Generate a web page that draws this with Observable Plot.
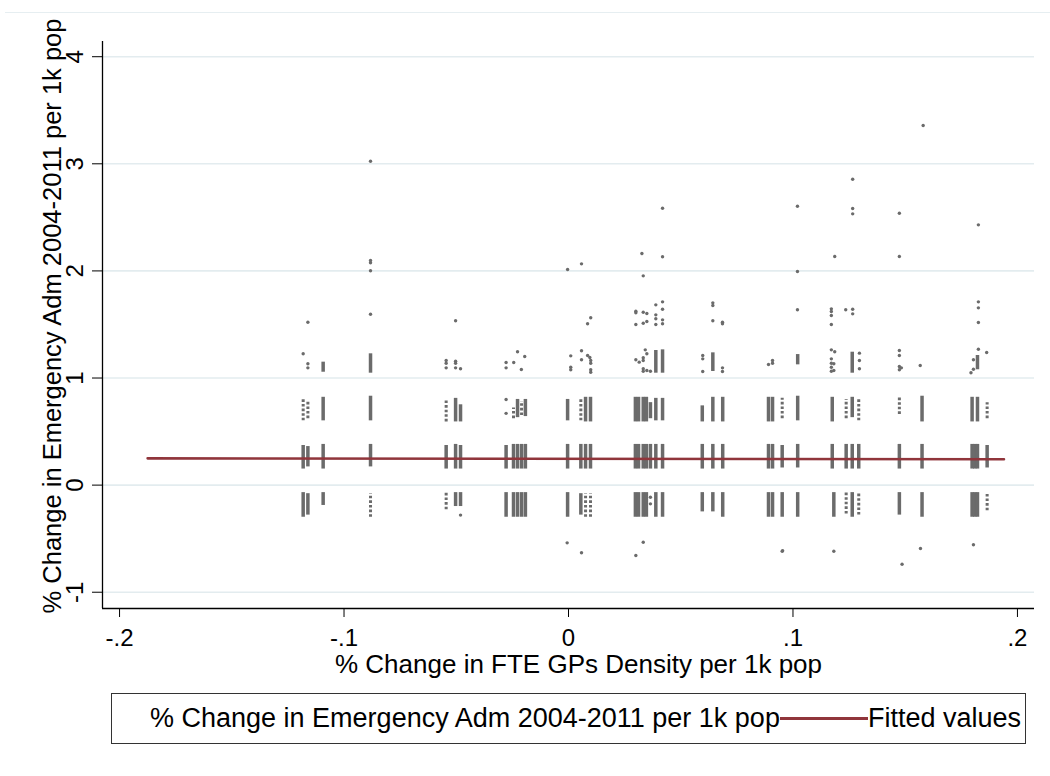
<!DOCTYPE html>
<html>
<head>
<meta charset="utf-8">
<script src="https://cdn.jsdelivr.net/npm/d3@7"></script>
<script src="https://cdn.jsdelivr.net/npm/@observablehq/plot@0.6"></script>
<style>
  html, body { margin: 0; padding: 0; background: #fff; }
  body { font-family: "Liberation Sans", Arial, sans-serif; color: #000; }
  #wrap { position: relative; width: 1050px; height: 776px; overflow: hidden; }
  #topline { position: absolute; left: 5px; right: 0; top: 12px; border-top: 1px solid #e6eef1; }
  #chart { position: absolute; left: 0; top: 0; }
  #legend { position: absolute; left: 111px; top: 693px; width: 915px; height: 51px;
            border: 1px solid #333; box-sizing: border-box; display: flex; align-items: center;
            padding-left: 38px; font-size: 27px; white-space: nowrap; overflow: hidden; }
  #legend .key { display: inline-block; width: 88px; height: 2.6px; background: #90353b; }
</style>
</head>
<body>
<div id="wrap">
  <div id="topline"></div>
  <div id="chart"></div>
  <div id="legend"></div>
</div>
<script>
// ---------- data ----------
const xDomain = [-0.2076, 0.2076];
const yDomain = [-1.152, 4.142];
const xTicks = [-0.2, -0.1, 0, 0.1, 0.2];
const xTickLabels = ["-.2", "-.1", "0", ".1", ".2"];
const yTicks = [-1, 0, 1, 2, 3, 4];
const yTickLabels = ["-1", "0", "1", "2", "3", "4"];
const xTitle = "% Change in FTE GPs Density per 1k pop";
const yTitle = "% Change in Emergency Adm 2004-2011 per 1k pop";
const legendLabels = ["% Change in Emergency Adm 2004-2011 per 1k pop", "Fitted values"];

// fitted line (x, y) end points
const fitX = [-0.1875, 0.194];
const fitY = [0.250, 0.241];

// densely packed columns of observations: [x, yLow, yHigh]
const denseStrips = [
  [-0.1182, 0.15, 0.37], [-0.1182, -0.30, -0.07],
  [-0.1161, 0.17, 0.36], [-0.1161, -0.28, -0.08],
  [-0.1093, 0.60, 0.82], [-0.1093, 0.15, 0.38], [-0.1093, -0.19, -0.07], [-0.1093, 1.054, 1.148],
  [-0.0882, 0.60, 0.83], [-0.0882, 0.17, 0.38], [-0.0882, 1.045, 1.226],
  [-0.0545, 0.15, 0.37],
  [-0.0503, 0.59, 0.81], [-0.0503, 0.15, 0.38], [-0.0503, -0.20, -0.07],
  [-0.0481, 0.59, 0.75], [-0.0481, 0.15, 0.37], [-0.0481, -0.20, -0.07],
  [-0.0278, 0.15, 0.37], [-0.0278, -0.30, -0.07],
  [-0.0245, 0.15, 0.38], [-0.0245, -0.30, -0.07],
  [-0.0227, 0.63, 0.80], [-0.0227, 0.15, 0.38], [-0.0227, -0.30, -0.07],
  [-0.0209, 0.15, 0.38], [-0.0209, -0.30, -0.07],
  [-0.0192, 0.64, 0.80], [-0.0192, 0.15, 0.38], [-0.0192, -0.30, -0.07],
  [-0.0004, 0.60, 0.80], [-0.0004, 0.15, 0.38], [-0.0004, -0.30, -0.07],
  [0.0055, 0.15, 0.38], [0.0055, -0.28, -0.08],
  [0.0076, 0.59, 0.82], [0.0076, 0.15, 0.38],
  [0.0098, 0.59, 0.82], [0.0098, 0.15, 0.38],
  [0.0298, 0.59, 0.82], [0.0298, 0.15, 0.38], [0.0298, -0.30, -0.07],
  [0.0312, 0.59, 0.82], [0.0312, 0.15, 0.38], [0.0312, -0.30, -0.07],
  [0.0333, 0.59, 0.82], [0.0333, 0.15, 0.38], [0.0333, -0.30, -0.07],
  [0.0347, 0.59, 0.82], [0.0347, 0.15, 0.38], [0.0347, -0.30, -0.07],
  [0.0365, 0.62, 0.77], [0.0365, 0.15, 0.38],
  [0.0389, 0.60, 0.81], [0.0389, 0.15, 0.38], [0.0389, -0.30, -0.07], [0.0389, 1.045, 1.257],
  [0.0419, 0.60, 0.81], [0.0419, 0.15, 0.38], [0.0419, -0.30, -0.07], [0.0419, 1.045, 1.263],
  [0.0596, 0.59, 0.74], [0.0596, 0.15, 0.38], [0.0596, -0.25, -0.07],
  [0.0643, 0.59, 0.82], [0.0643, 0.15, 0.38], [0.0643, -0.25, -0.07], [0.0643, 1.061, 1.235],
  [0.0687, 0.59, 0.82], [0.0687, 0.15, 0.38], [0.0687, -0.30, -0.07],
  [0.0891, 0.59, 0.82], [0.0891, 0.15, 0.38], [0.0891, -0.30, -0.07],
  [0.0909, 0.59, 0.82], [0.0909, 0.15, 0.38], [0.0909, -0.30, -0.07],
  [0.0952, 0.16, 0.37], [0.0952, -0.30, -0.07],
  [0.1021, 0.60, 0.83], [0.1021, 0.16, 0.38], [0.1021, -0.30, -0.07], [0.1021, 1.123, 1.219],
  [0.1175, 0.59, 0.82], [0.1175, 0.15, 0.38],
  [0.1182, -0.30, -0.07],
  [0.1237, 0.15, 0.38],
  [0.1264, 0.63, 0.82], [0.1264, 0.15, 0.38], [0.1264, -0.30, -0.07], [0.1264, 1.045, 1.241],
  [0.1293, 0.15, 0.38],
  [0.1474, 0.15, 0.38], [0.1474, -0.28, -0.07],
  [0.1575, 0.59, 0.83], [0.1575, 0.15, 0.38], [0.1575, -0.30, -0.07],
  [0.1798, 0.59, 0.82], [0.1798, 0.15, 0.38], [0.1798, -0.30, -0.07],
  [0.1810, 0.15, 0.38], [0.1810, -0.30, -0.07],
  [0.1822, 0.59, 0.82], [0.1822, 0.15, 0.38], [0.1822, -0.30, -0.07], [0.1822, 1.077, 1.210],
  [0.1865, 0.16, 0.37]
];

// loosely packed columns of observations: [x, yLow, yHigh]
const sparseStrips = [
  [-0.1182, 0.60, 0.81], [-0.1161, 0.62, 0.79],
  [-0.0882, -0.30, -0.08],
  [-0.0545, 0.59, 0.79], [-0.0545, -0.23, -0.07],
  [-0.0245, 0.62, 0.72], [-0.0209, 0.65, 0.78],
  [0.0055, 0.60, 0.80],
  [0.0076, -0.30, -0.08], [0.0098, -0.30, -0.08],
  [0.0952, 0.62, 0.81],
  [0.1237, 0.62, 0.80], [0.1237, -0.27, -0.07],
  [0.1293, 0.60, 0.80], [0.1293, -0.28, -0.07],
  [0.1474, 0.66, 0.82],
  [0.1865, 0.62, 0.77], [0.1865, -0.24, -0.07]
];

// isolated observations: [x, y]
const points = [
  [-0.1182, 1.226],
  [-0.1161, 1.521], [-0.1161, 1.133], [-0.1161, 1.095],
  [-0.0882, 3.024], [-0.0882, 2.097], [-0.0882, 2.076], [-0.0882, 2.001], [-0.0882, 1.596],
  [-0.0545, 1.163], [-0.0545, 1.138], [-0.0545, 1.095],
  [-0.0503, 1.534], [-0.0503, 1.157], [-0.0503, 1.138], [-0.0503, 1.095],
  [-0.0481, 1.086], [-0.0481, -0.28],
  [-0.0278, 0.80], [-0.0278, 0.67], [-0.0278, 1.145], [-0.0278, 1.095],
  [-0.0244, 1.145], [-0.0227, 1.245], [-0.0210, 1.079], [-0.0195, 1.201],
  [-0.0004, 2.013], [-0.0006, -0.539],
  [0.0010, 1.207], [0.0010, 1.101], [0.0010, 1.077],
  [0.0058, 2.066], [0.0058, 1.254], [0.0058, 1.170], [0.0058, -0.632],
  [0.0085, 1.506], [0.0085, 1.210], [0.0095, 1.191],
  [0.0099, 1.562], [0.0099, 1.163], [0.0099, 1.138], [0.0099, 1.077], [0.0099, 1.054],
  [0.0300, 1.624], [0.0300, 1.609], [0.0300, 1.500], [0.0300, 1.170], [0.0300, -0.657],
  [0.0315, 1.148],
  [0.0327, 2.162], [0.0333, 1.954], [0.0333, 1.614], [0.0333, 1.512], [0.0333, 1.189],
  [0.0333, 1.163], [0.0333, 1.086], [0.0333, 1.063], [0.0333, -0.533],
  [0.0342, 1.263], [0.0349, 1.226], [0.0349, 1.602], [0.0349, 1.528], [0.0349, 1.070],
  [0.0365, 1.063], [0.0365, -0.113], [0.0365, -0.175],
  [0.0389, 1.683], [0.0389, 1.590], [0.0389, 1.553], [0.0389, 1.500],
  [0.0419, 2.585], [0.0419, 2.132], [0.0419, 1.711], [0.0419, 1.642], [0.0419, 1.543], [0.0419, 1.506],
  [0.0598, 1.210], [0.0598, 1.179], [0.0598, 1.061],
  [0.0643, 1.702], [0.0643, 1.677], [0.0643, 1.534],
  [0.0686, 1.521], [0.0686, 1.506], [0.0686, 1.095], [0.0686, 1.061],
  [0.0891, 1.126], [0.0909, 1.163], [0.0909, 1.138],
  [0.0952, -0.617], [0.0954, -0.612],
  [0.1020, 2.604], [0.1020, 1.994], [0.1020, 1.637],
  [0.1171, 1.646], [0.1171, 1.621], [0.1171, 1.584], [0.1171, 1.500], [0.1171, 1.263],
  [0.1171, 1.179], [0.1171, 1.138], [0.1171, 1.101], [0.1171, 1.063],
  [0.1186, 2.134], [0.1186, 1.245], [0.1182, 1.133], [0.1182, 1.070], [0.1182, -0.617],
  [0.1235, 1.637],
  [0.1266, 2.856], [0.1266, 2.583], [0.1266, 2.533], [0.1266, 1.642], [0.1266, 1.599],
  [0.1296, 1.232], [0.1296, 1.163], [0.1296, 1.086],
  [0.1474, 2.539], [0.1474, 2.134], [0.1474, 1.257], [0.1474, 1.210], [0.1474, 1.107], [0.1474, 1.077],
  [0.1483, 1.095], [0.1486, -0.739],
  [0.1567, 1.117], [0.1568, -0.592],
  [0.1580, 3.358],
  [0.1793, 1.049], [0.1804, 1.170], [0.1804, 1.082], [0.1804, -0.557],
  [0.1826, 2.430], [0.1826, 1.711], [0.1826, 1.655], [0.1826, 1.518], [0.1826, 1.269],
  [0.1863, 1.238]
];

// ---------- drawing ----------
const markerColor = "#6b6b6b";
const fitColor = "#90353b";
const fitData = fitX.map((x, i) => ({x, y: fitY[i]}));

const chart = Plot.plot({
  width: 1050,
  height: 700,
  marginLeft: 102,
  marginRight: 16,
  marginTop: 41,
  marginBottom: 92,
  x: {domain: xDomain},
  y: {domain: yDomain},
  style: {fontFamily: '"Liberation Sans", Arial, sans-serif', color: "#000", background: "transparent", overflow: "visible"},
  marks: [
    Plot.gridY(yTicks, {stroke: "#e3ecef", strokeOpacity: 1, strokeWidth: 1.6}),
    Plot.ruleX(denseStrips, {x: d => d[0], y1: d => d[1], y2: d => d[2], stroke: markerColor, strokeWidth: 3.5}),
    Plot.ruleX(sparseStrips, {x: d => d[0], y1: d => d[1], y2: d => d[2], stroke: markerColor, strokeWidth: 3, strokeDasharray: "2.6,2"}),
    Plot.dot(points, {x: d => d[0], y: d => d[1], r: 1.7, fill: markerColor, stroke: "none"}),
    Plot.line(fitData, {x: "x", y: "y", stroke: fitColor, strokeWidth: 2.6}),
    Plot.ruleX([xDomain[0]], {stroke: "#000", strokeWidth: 1.3}),
    Plot.ruleY([yDomain[0]], {stroke: "#000", strokeWidth: 1.3}),
    Plot.axisX(xTicks, {tickSize: 9, tickPadding: 11, fontSize: 24, label: null,
      tickFormat: d => xTickLabels[xTicks.indexOf(d)]}),
    Plot.axisY(yTicks, {tickSize: 10, tickFormat: () => "", label: null}),
    Plot.text(yTicks, {y: d => d, frameAnchor: "left", dx: -20, rotate: -90,
      text: d => yTickLabels[yTicks.indexOf(d)], lineAnchor: "bottom", textAnchor: "middle", fontSize: 24, fill: "#000"}),
    Plot.text([yTitle], {frameAnchor: "left", dx: -42, dy: -9, rotate: -90, text: d => d,
      lineAnchor: "bottom", textAnchor: "middle", fontSize: 25.5, fill: "#000"}),
    Plot.text([xTitle], {frameAnchor: "bottom", dx: 10, dy: 46, text: d => d,
      lineAnchor: "top", textAnchor: "middle", fontSize: 26, fill: "#000"})
  ]
});
document.getElementById("chart").appendChild(chart);

// legend
const legend = document.getElementById("legend");
const l1 = document.createElement("span"); l1.textContent = legendLabels[0];
const key = document.createElement("span"); key.className = "key";
const l2 = document.createElement("span"); l2.textContent = legendLabels[1];
legend.append(l1, key, l2);
</script>
</body>
</html>
